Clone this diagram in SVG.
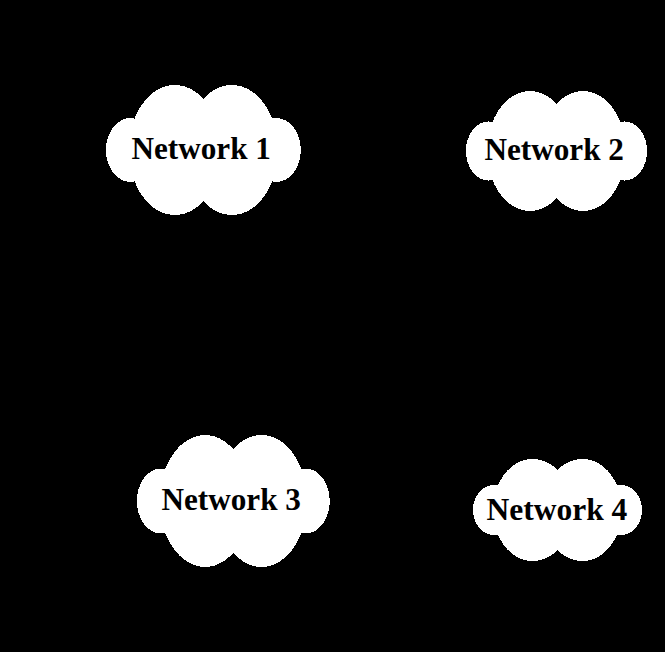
<svg xmlns="http://www.w3.org/2000/svg" xmlns:xlink="http://www.w3.org/1999/xlink" width="665" height="652" viewBox="0 0 665 652">
<style>
.cloud{fill:#fff;shape-rendering:crispEdges}
.label{font-family:"Liberation Serif","Times New Roman",serif;font-weight:bold;font-size:31.2px;fill:#000}
</style>
<defs>
<g id="cloud" class="cloud">
<ellipse cx="-28.5" cy="0" rx="46" ry="65"/>
<ellipse cx="28.5" cy="0" rx="46" ry="65"/>
<ellipse cx="-73" cy="0" rx="24.4" ry="32"/>
<ellipse cx="73" cy="0" rx="24.4" ry="32"/>
</g>
</defs>
<rect id="background" width="665" height="652" fill="#000"/>
<g id="connectors"/>
<g id="network1"><use href="#cloud" transform="translate(203.4 150)"/><text class="label" x="131.5" y="159">Network 1</text></g>
<g id="network2"><use href="#cloud" transform="translate(556.5 151) scale(.93 .923)"/><text class="label" x="484.5" y="160">Network 2</text></g>
<g id="network3"><use href="#cloud" transform="translate(233.3 501) scale(.99 1.015)"/><text class="label" x="161.5" y="510">Network 3</text></g>
<g id="network4"><use href="#cloud" transform="translate(557.5 510) scale(.868 .785)"/><text class="label" x="486.5" y="519.5" style="font-size:31.5px">Network 4</text></g>
</svg>
